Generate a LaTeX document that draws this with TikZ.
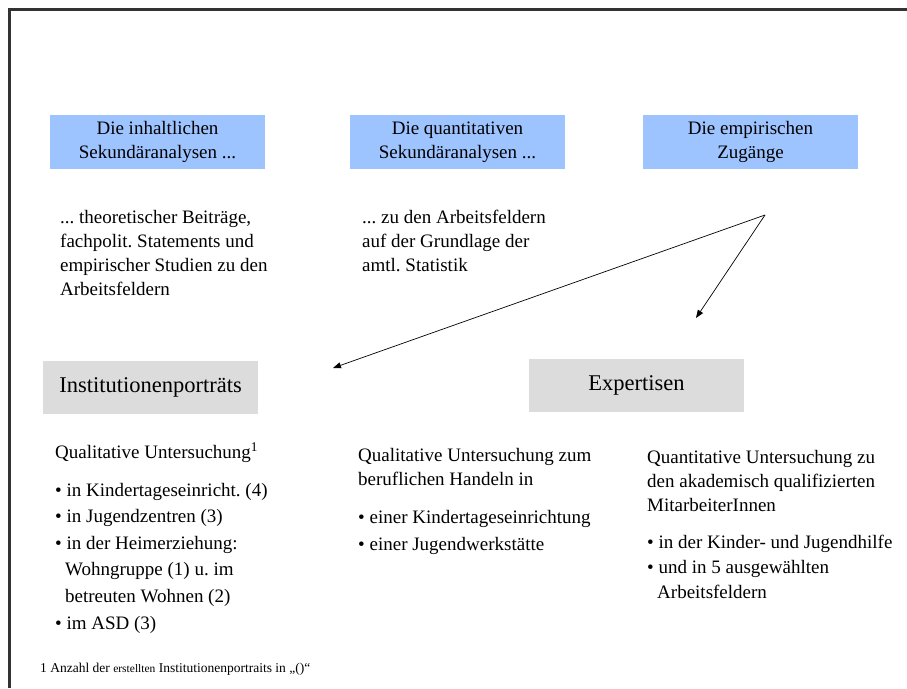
\documentclass[tikz,border=0pt]{standalone}
\usepackage{fontspec}
\setmainfont{Liberation Serif}
\usetikzlibrary{arrows.meta,positioning}
\definecolor{boxblue}{RGB}{158,196,255}
\definecolor{boxgray}{RGB}{220,220,220}
\frenchspacing

\begin{document}
\begin{tikzpicture}[x=1pt,y=-1pt,
  blbox/.style={fill=boxblue,minimum width=215pt,minimum height=54pt,
    inner sep=0pt,align=center,font=\fontsize{19}{24}\selectfont},
  grbox/.style={fill=boxgray,minimum width=215pt,minimum height=53pt,
    inner sep=0pt,font=\fontsize{22.5}{27}\selectfont},
  txt/.style={anchor=base west,inner sep=0pt,align=left,
    font=\fontsize{19}{24}\selectfont},
  flow/.style={-{Triangle[length=8pt,width=6pt]},line width=0.7pt}]
\useasboundingbox (0,0) rectangle (907,688);
% Frame (top and left edge only)
\draw[line width=2.2pt,black!80] (9.5,688) -- (9.5,9.5) -- (907,9.5);
% Upper row: the three approaches
\node[blbox] (inhalt) at (157.5,142) {Die inhaltlichen\\Sekundäranalysen ...};
\node[blbox] (quant) at (457.5,142) {Die quantitativen\\Sekundäranalysen ...};
\node[blbox] (empir) at (750.5,142) {Die empirischen\\Zugänge};
% (base of a text node = baseline of its last line)
\node[txt] (inhalttxt) at (60,295) {... theoretischer Beiträge,\\fachpolit. Statements und\\empirischer Studien zu den\\Arbeitsfeldern};
\node[txt] (quanttxt) at (362,271) {... zu den Arbeitsfeldern\\auf der Grundlage der\\amtl. Statistik};
% Split of the empirical approaches
\coordinate (split) at (765,215);
\coordinate (toinst) at (333,368);
\coordinate (toexp) at (696,318);
\draw[flow] (split) -- (toinst);
\draw[flow] (split) -- (toexp);
% Lower row
\node[grbox] (inst) at (150.5,387.5) {Institutionenporträts};
\node[grbox] (exp) at (636.5,385) {Expertisen};
\node[txt] (insttxt) at (55,629) {Qualitative Untersuchung\textsuperscript{1}\\[14pt]
  • in Kindertageseinricht. (4)\\[2.6pt]
  • in Jugendzentren (3)\\[2.6pt]
  • in der Heimerziehung:\\[2.6pt]
  \hspace*{10pt}Wohngruppe (1) u. im\\[2.6pt]
  \hspace*{10pt}betreuten Wohnen (2)\\[2.6pt]
  • im ASD (3)};
\node[txt] (exptxt) at (358,550) {Qualitative Untersuchung zum\\beruflichen Handeln in\\[14pt]
  • einer Kindertageseinrichtung\\[3pt]
  • einer Jugendwerkstätte};
\node[txt] (quanttxt2) at (647,598) {Quantitative Untersuchung zu\\den akademisch qualifizierten\\MitarbeiterInnen\\[13pt]
  • in der Kinder- und Jugendhilfe\\[1pt]
  • und in 5 ausgewählten\\[1pt]
  \hspace*{10pt}Arbeitsfeldern};
% Footnote
\node[anchor=base west,inner sep=0pt,font=\fontsize{13.5}{16}\selectfont] (fn) at (40,672)
  {1 Anzahl der {\fontsize{11.5}{14}\selectfont erstellten} Institutionenportraits in „()“};
\end{tikzpicture}
\end{document}
